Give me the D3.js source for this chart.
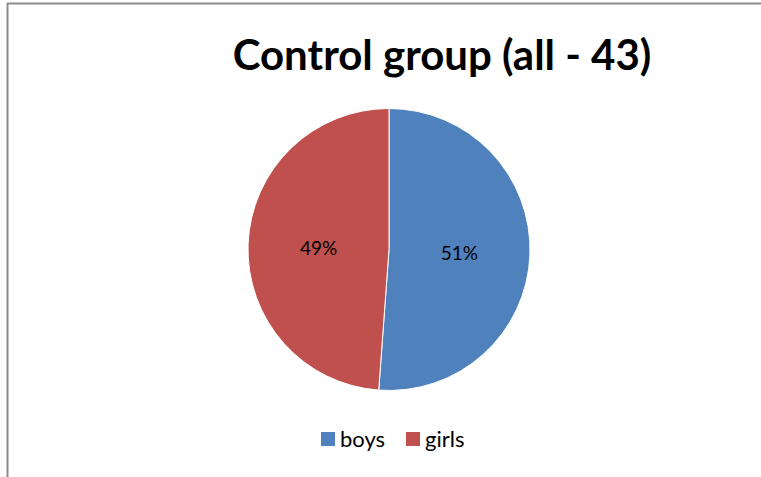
<!DOCTYPE html>
<html>
<head>
<meta charset="utf-8">
<script src="https://cdn.jsdelivr.net/npm/d3@7"></script>
<style>
body{margin:0;background:#fff;}
text{font-family:Lato,"Open Sans",sans-serif;}
</style>
</head>
<body>
<script>
const svg_width = 761, svg_height = 477;
// data
var categories = ["boys", "girls"];
var counts = [22, 21];
var colors = ["#4F81BD", "#C0504D"];
var title = "Control group (all - 43)";

var svg = d3.select("body").append("svg")
  .attr("width", svg_width)
  .attr("height", svg_height);

// chart frame (top + left edges visible)
svg.append("line").attr("x1", 7).attr("y1", 3.5).attr("x2", svg_width).attr("y2", 3.5)
  .attr("stroke", "#8c8c8c").attr("stroke-width", 2);
svg.append("line").attr("x1", 7.5).attr("y1", 3).attr("x2", 7.5).attr("y2", svg_height)
  .attr("stroke", "#8c8c8c").attr("stroke-width", 2);

svg.append("text")
  .attr("x", 442).attr("y", 70)
  .attr("text-anchor", "middle")
  .style("font-size", "42px").style("font-weight", "bold")
  .text(title);

var cx = 389, cy = 249.5, r = 141;
var total = d3.sum(counts);
var pie = d3.pie().sort(null).value(function(d){ return d; });
var arcs = pie(counts);
var arc = d3.arc().innerRadius(0).outerRadius(r);
var labelArc = d3.arc().innerRadius(r * 0.5).outerRadius(r * 0.5);

var g = svg.append("g").attr("transform", "translate(" + cx + "," + cy + ")");
g.selectAll("path").data(arcs).enter().append("path")
  .attr("d", arc)
  .attr("fill", function(d, i){ return colors[i]; })
  .attr("stroke", "#fff").attr("stroke-width", 1);

g.selectAll("text").data(arcs).enter().append("text")
  .attr("x", function(d){ return labelArc.centroid(d)[0]; })
  .attr("y", function(d){ return labelArc.centroid(d)[1] + 8; })
  .attr("text-anchor", "middle")
  .style("font-size", "19px")
  .text(function(d){ return Math.round(d.value / total * 100) + "%"; });

// legend
var legendX = [321, 406];
var legend = svg.selectAll(".leg").data(categories).enter().append("g")
  .attr("transform", function(d, i){ return "translate(" + legendX[i] + ",432)"; });
legend.append("rect").attr("width", 14).attr("height", 14)
  .attr("fill", function(d, i){ return colors[i]; });
legend.append("text").attr("x", 19).attr("y", 15)
  .style("font-size", "22px")
  .text(function(d){ return d; });
</script>
</body>
</html>
